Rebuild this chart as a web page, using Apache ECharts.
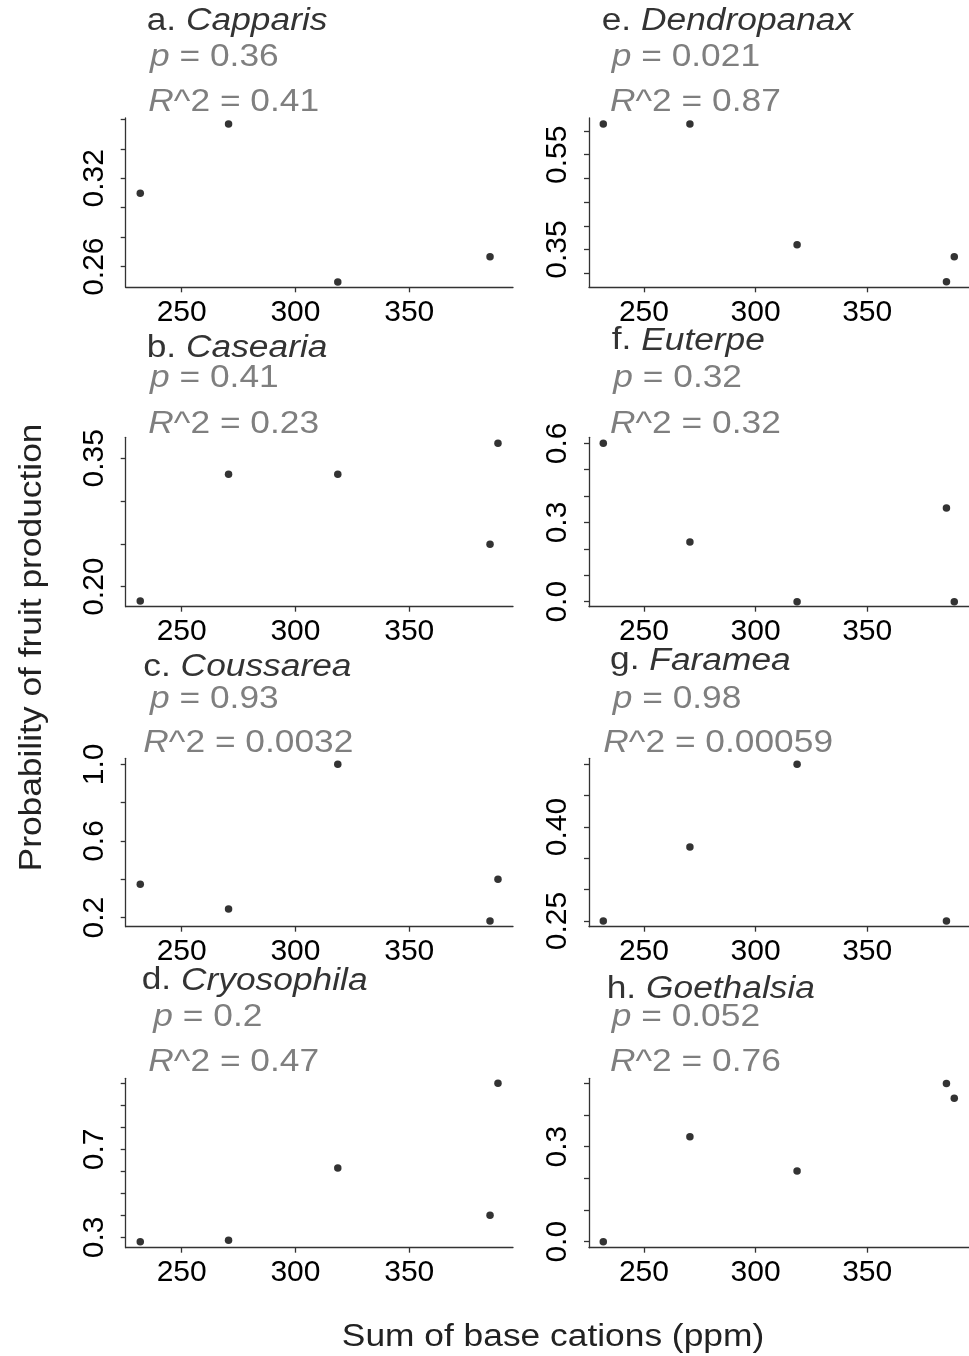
<!DOCTYPE html>
<html>
<head>
<meta charset="utf-8">
<script src="https://cdn.jsdelivr.net/npm/echarts@6/dist/echarts.min.js"></script>
<style>html,body{margin:0;padding:0;background:#fff}#c{width:969px;height:1356px}</style>
</head>
<body>
<div id="c"></div>
<script>
// ---- data ----
const baseCations = [231.8, 270.6, 318.6, 385.5, 389.0];
const panelLetters = ['a', 'b', 'c', 'd', 'e', 'f', 'g', 'h'];
const genera = ['Capparis', 'Casearia', 'Coussarea', 'Cryosophila', 'Dendropanax', 'Euterpe', 'Faramea', 'Goethalsia'];
const pValues = ['0.36', '0.41', '0.93', '0.2', '0.021', '0.32', '0.98', '0.052'];
const r2Values = ['0.41', '0.23', '0.0032', '0.47', '0.87', '0.32', '0.00059', '0.76'];

const capparis    = [0.3098, 0.3568, 0.2496, 0.2668, null];
const casearia    = [0.1833, 0.3313, 0.3313, 0.2495, 0.3675];
const coussarea   = [0.374, 0.245, 1.0, 0.183, 0.400];
const cryosophila = [0.280, 0.286, 0.615, 0.400, 1.0];
const dendropanax = [0.615, 0.615, 0.360, 0.282, 0.335];
const euterpe     = [0.600, 0.226, 0.0, 0.355, 0.0];
const faramea     = [0.250, 0.368, 0.500, 0.250, null];
const goethalsia  = [0.0, 0.331, 0.223, 0.499, 0.453];
const fruitProb = [capparis, casearia, coussarea, cryosophila, dendropanax, euterpe, faramea, goethalsia];

const xTickValues = [250, 300, 350];
const yTickValues = [
  [0.26, 0.28, 0.30, 0.32, 0.34, 0.36],
  [0.20, 0.25, 0.30, 0.35],
  [0.2, 0.4, 0.6, 0.8, 1.0],
  [0.3, 0.4, 0.5, 0.6, 0.7, 0.8, 0.9, 1.0],
  [0.30, 0.35, 0.40, 0.45, 0.50, 0.55, 0.60],
  [0.0, 0.1, 0.2, 0.3, 0.4, 0.5, 0.6],
  [0.25, 0.30, 0.35, 0.40, 0.45, 0.50],
  [0.0, 0.1, 0.2, 0.3, 0.4, 0.5]
];
const yLabelValues = [
  [0.26, 0.32],
  [0.20, 0.35],
  [0.2, 0.6, 1.0],
  [0.3, 0.7],
  [0.35, 0.55],
  [0.0, 0.3, 0.6],
  [0.25, 0.40],
  [0.0, 0.3]
];
const yDecimals = [2, 2, 1, 1, 2, 1, 2, 1];
const yMin = [0.2460, 0.1766, 0.1531, 0.2527, 0.2705, -0.0189, 0.2409, -0.0189];
const yMax = [0.3609, 0.3745, 1.0313, 1.0227, 0.6274, 0.6227, 0.5096, 0.5158];
const xMin = 225.4, xMax = 395.6;

// ---- layout ----
const colLeft = [125.7, 589];
const rowTop = [118, 437.3, 758.3, 1078.3];
const rowBottom = [287.3, 606.7, 926.7, 1247.7];
const panelWidth = 387.3;
const titleX = [146.7, 146.7, 143.3, 141.7, 601.7, 611.7, 610, 606.7];
const titleBase = [32.3, 359.3, 678.3, 991.7, 32.3, 351.7, 671.7, 1000];
const pX = [150, 150, 150, 153.3, 611.7, 613.3, 612.7, 611.7];
const pBase = [68.3, 389.3, 710, 1028.3, 68.3, 389.3, 710, 1028.3];
const rX = [148.3, 148.3, 143.3, 148.3, 610, 610, 603.3, 610];
const rBase = [113.3, 435, 754, 1073.3, 113.3, 435, 754, 1073.3];

const FONT = '"Liberation Sans", Arial, Helvetica, sans-serif';
const FS = 31;
const SX = 1.14;
const axisColor = '#333333';

const grids = [], xAxes = [], yAxes = [], series = [], graphics = [];

function richText(x, baseline, text, color) {
  const mk = (style) => ({ fontSize: FS, fontFamily: FONT, fontStyle: style, fontWeight: 'normal', fill: color });
  return {
    type: 'text', x: x, y: baseline - 0.347 * FS, scaleX: SX, silent: true,
    style: {
      text: text, fontSize: FS, fontFamily: FONT, fill: color,
      align: 'left', verticalAlign: 'middle', textAlign: 'left', textVerticalAlign: 'middle',
      rich: { n: mk('normal'), i: mk('italic') }
    }
  };
}

for (let k = 0; k < 8; k++) {
  const col = Math.floor(k / 4), row = k % 4;
  grids.push({ left: colLeft[col], top: rowTop[row], width: panelWidth, height: rowBottom[row] - rowTop[row], containLabel: false });
  xAxes.push({
    type: 'value', gridIndex: k, min: xMin, max: xMax,
    axisLine: { show: true, onZero: false, lineStyle: { color: axisColor, width: 1.3 } },
    axisTick: { show: true, customValues: xTickValues, length: 5, lineStyle: { color: axisColor, width: 1.3 } },
    axisLabel: { customValues: xTickValues, fontSize: 30, fontFamily: FONT, color: '#000', margin: 10.5 },
    splitLine: { show: false }
  });
  const dec = yDecimals[k];
  yAxes.push({
    type: 'value', gridIndex: k, min: yMin[k], max: yMax[k],
    axisLine: { show: true, onZero: false, lineStyle: { color: axisColor, width: 1.3 } },
    axisTick: { show: true, customValues: yTickValues[k], length: 5, lineStyle: { color: axisColor, width: 1.3 } },
    axisLabel: { customValues: yLabelValues[k], rotate: 90, fontSize: 30, fontFamily: FONT, color: '#000', margin: 16,
      formatter: (v) => Number(v).toFixed(dec) },
    splitLine: { show: false }
  });
  const pts = [];
  fruitProb[k].forEach((v, i) => { if (v !== null) pts.push([baseCations[i], v]); });
  series.push({
    type: 'scatter', xAxisIndex: k, yAxisIndex: k, data: pts,
    symbol: 'circle', symbolSize: 7.5, itemStyle: { color: '#000' }, clip: false, silent: true
  });
  graphics.push(richText(titleX[k], titleBase[k], '{n|' + panelLetters[k] + '. }{i|' + genera[k] + '}', '#333333'));
  graphics.push(richText(pX[k], pBase[k], '{i|p}{n| = ' + pValues[k] + '}', '#7f7f7f'));
  graphics.push(richText(rX[k], rBase[k], '{i|R}{n|^2 = ' + r2Values[k] + '}', '#7f7f7f'));
}

graphics.push({
  type: 'text', x: 32.9, y: 647.5, rotation: Math.PI / 2, scaleX: SX, silent: true,
  style: { text: 'Probability of fruit production', fontSize: FS, fontFamily: FONT, fill: '#222',
    align: 'center', verticalAlign: 'middle', textAlign: 'center', textVerticalAlign: 'middle' }
});
graphics.push({
  type: 'text', x: 553, y: 1348.3 - 0.347 * FS, scaleX: SX, silent: true,
  style: { text: 'Sum of base cations (ppm)', fontSize: FS, fontFamily: FONT, fill: '#222',
    align: 'center', verticalAlign: 'middle', textAlign: 'center', textVerticalAlign: 'middle' }
});

const chart = echarts.init(document.getElementById('c'), null, { renderer: 'canvas' });
chart.setOption({
  backgroundColor: '#ffffff',
  animation: false,
  grid: grids, xAxis: xAxes, yAxis: yAxes, series: series,
  graphic: { elements: graphics }
});
</script>
</body>
</html>
